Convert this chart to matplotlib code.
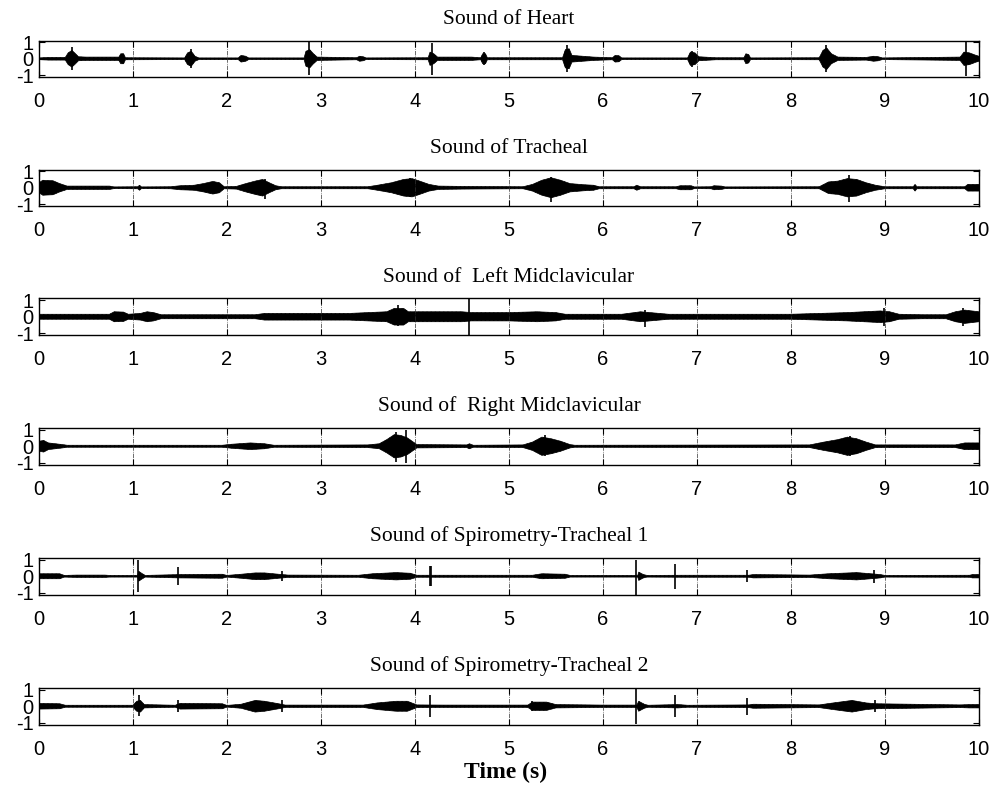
import numpy as np
import matplotlib
matplotlib.use('Agg')
import matplotlib.pyplot as plt

plt.rcParams['axes.unicode_minus'] = False

# envelope (time s, half amplitude) and spikes (time s, top, bottom)
heart_env = [(0, 0.05), (0.1, 0.08), (0.28, 0.08), (0.31, 0.35), (0.35, 0.5), (0.38, 0.35), (0.42, 0.12),
             (0.5, 0.1), (0.85, 0.1), (0.87, 0.3), (0.9, 0.3), (0.92, 0.06), (1.55, 0.05), (1.58, 0.35),
             (1.62, 0.45), (1.66, 0.15), (1.7, 0.05), (2.12, 0.05), (2.15, 0.2), (2.2, 0.15), (2.23, 0.05),
             (2.82, 0.05), (2.84, 0.45), (2.88, 0.55), (2.92, 0.3), (2.96, 0.1), (3.38, 0.06), (3.41, 0.15),
             (3.45, 0.12), (3.48, 0.05), (4.14, 0.06), (4.16, 0.4), (4.2, 0.3), (4.24, 0.1), (4.6, 0.1),
             (4.7, 0.06), (4.72, 0.3), (4.75, 0.3), (4.77, 0.06), (5.57, 0.06), (5.6, 0.55), (5.64, 0.6),
             (5.67, 0.2), (5.9, 0.1), (6.1, 0.06), (6.13, 0.2), (6.17, 0.18), (6.2, 0.05), (6.9, 0.05),
             (6.93, 0.4), (6.98, 0.35), (7.02, 0.12), (7.2, 0.06), (7.5, 0.06), (7.52, 0.3), (7.55, 0.25),
             (7.57, 0.05), (8.3, 0.06), (8.34, 0.5), (8.38, 0.65), (8.43, 0.3), (8.5, 0.1), (8.8, 0.08),
             (8.88, 0.15), (8.93, 0.12), (8.97, 0.05), (9.5, 0.08), (9.8, 0.1), (9.84, 0.4), (9.9, 0.35),
             (9.97, 0.2), (10, 0.15)]
heart_spikes = [(0.35, 0.7, -0.7), (1.62, 0.6, -0.55), (2.87, 1.05, -1.0), (4.18, 0.95, -1.0),
                (4.73, 0.4, -0.4), (5.62, 0.8, -0.78), (6.95, 0.45, -0.5), (8.37, 0.85, -0.82),
                (9.86, 1.1, -1.05)]

tracheal_env = [(0, 0.3), (0.04, 0.45), (0.15, 0.42), (0.22, 0.25), (0.3, 0.1), (0.75, 0.1), (0.8, 0.05),
                (1.05, 0.06), (1.07, 0.15), (1.09, 0.05), (1.4, 0.06), (1.5, 0.12), (1.65, 0.15), (1.75, 0.25),
                (1.85, 0.38), (1.92, 0.3), (1.97, 0.06), (2.1, 0.08), (2.2, 0.25), (2.3, 0.4), (2.38, 0.5),
                (2.45, 0.3), (2.52, 0.12), (2.58, 0.06), (3.5, 0.06), (3.6, 0.15), (3.75, 0.3), (3.88, 0.5),
                (3.97, 0.55), (4.05, 0.4), (4.15, 0.2), (4.25, 0.1), (4.5, 0.08), (5.15, 0.06), (5.25, 0.2),
                (5.35, 0.45), (5.45, 0.6), (5.55, 0.45), (5.65, 0.25), (5.8, 0.18), (5.9, 0.15), (5.96, 0.06),
                (6.33, 0.06), (6.36, 0.15), (6.4, 0.06), (6.78, 0.06), (6.82, 0.12), (6.94, 0.12), (6.97, 0.05),
                (7.15, 0.06), (7.18, 0.12), (7.26, 0.1), (7.3, 0.05), (8.3, 0.06), (8.4, 0.35), (8.5, 0.4),
                (8.6, 0.55), (8.7, 0.5), (8.8, 0.3), (8.9, 0.15), (9.0, 0.06), (9.3, 0.06), (9.32, 0.2),
                (9.34, 0.06), (9.85, 0.06), (9.88, 0.2), (10, 0.2)]
tracheal_spikes = [(2.4, 0.55, -0.68), (3.95, 0.6, -0.54), (5.45, 0.66, -0.84), (8.62, 0.76, -0.88)]

left_env = [(0, 0.15), (0.75, 0.15), (0.8, 0.3), (0.9, 0.28), (0.95, 0.15), (1.08, 0.2), (1.15, 0.3),
            (1.22, 0.25), (1.3, 0.12), (2.3, 0.12), (2.4, 0.2), (3.3, 0.2), (3.5, 0.25), (3.7, 0.3),
            (3.78, 0.5), (3.88, 0.5), (3.93, 0.3), (4.5, 0.3), (4.6, 0.25), (5.0, 0.25), (5.3, 0.3),
            (5.5, 0.25), (5.6, 0.15), (6.2, 0.15), (6.4, 0.3), (6.6, 0.2), (6.7, 0.15), (8.0, 0.15),
            (8.3, 0.2), (8.6, 0.25), (8.95, 0.35), (9.05, 0.3), (9.15, 0.15), (9.4, 0.12), (9.65, 0.12),
            (9.75, 0.3), (9.85, 0.4), (10, 0.3)]
left_spikes = [(3.82, 0.72, -0.58), (4.57, 1.1, -1.1), (6.45, 0.4, -0.6), (8.99, 0.55, -0.55),
               (9.83, 0.55, -0.55)]

right_env = [(0, 0.3), (0.05, 0.35), (0.1, 0.2), (0.25, 0.1), (0.3, 0.06), (1.95, 0.06), (2.05, 0.12),
             (2.25, 0.2), (2.4, 0.15), (2.5, 0.06), (3.5, 0.08), (3.62, 0.15), (3.7, 0.4), (3.78, 0.7),
             (3.85, 0.65), (3.92, 0.5), (3.97, 0.3), (4.02, 0.1), (4.55, 0.08), (4.58, 0.15), (4.62, 0.06),
             (5.15, 0.08), (5.25, 0.25), (5.35, 0.55), (5.45, 0.45), (5.55, 0.3), (5.65, 0.1), (5.7, 0.06),
             (8.2, 0.08), (8.35, 0.25), (8.5, 0.4), (8.6, 0.55), (8.7, 0.45), (8.8, 0.25), (8.9, 0.08),
             (9.75, 0.08), (9.85, 0.2), (10, 0.2)]
right_spikes = [(3.8, 0.84, -0.94), (3.9, 1.0, -1.0), (5.38, 0.65, -0.6), (8.63, 0.63, -0.6)]

spiro1_env = [(0, 0.15), (0.22, 0.15), (0.27, 0.05), (0.4, 0.07), (0.7, 0.07), (0.75, 0.05), (1.05, 0.05),
              (1.06, 0.3), (1.1, 0.15), (1.13, 0.05), (1.5, 0.1), (1.95, 0.12), (2.0, 0.05), (2.15, 0.12),
              (2.3, 0.2), (2.4, 0.2), (2.55, 0.12), (2.65, 0.07), (3.4, 0.06), (3.55, 0.15), (3.8, 0.22),
              (3.95, 0.18), (4.02, 0.06), (5.25, 0.06), (5.35, 0.15), (5.6, 0.12), (5.65, 0.05), (6.37, 0.05),
              (6.38, 0.25), (6.43, 0.1), (6.47, 0.05), (6.85, 0.06), (7.55, 0.06), (7.6, 0.1), (8.2, 0.07),
              (8.4, 0.15), (8.7, 0.22), (8.85, 0.15), (8.95, 0.1), (9.0, 0.05), (9.9, 0.06), (9.93, 0.1),
              (10, 0.1)]
spiro1_spikes = [(1.05, 1.0, -0.95), (1.475, 0.55, -0.55), (2.58, 0.3, -0.3), (4.16, 0.6, -0.6),
                 (4.17, 0.6, -0.6), (6.35, 1.0, -1.1), (6.77, 0.75, -0.75), (7.53, 0.35, -0.35),
                 (8.88, 0.4, -0.4)]

spiro2_env = [(0, 0.17), (0.22, 0.15), (0.28, 0.06), (1.0, 0.06), (1.04, 0.3), (1.08, 0.35), (1.12, 0.1),
              (1.45, 0.06), (1.5, 0.17), (1.95, 0.15), (2.0, 0.05), (2.15, 0.12), (2.3, 0.35), (2.4, 0.3),
              (2.55, 0.15), (2.62, 0.07), (3.45, 0.07), (3.6, 0.2), (3.8, 0.3), (3.92, 0.3), (4.02, 0.08),
              (4.3, 0.07), (5.2, 0.07), (5.25, 0.25), (5.4, 0.25), (5.5, 0.1), (6.0, 0.07), (6.36, 0.07),
              (6.38, 0.3), (6.44, 0.12), (6.48, 0.06), (6.8, 0.1), (6.9, 0.06), (7.55, 0.08), (7.6, 0.12),
              (8.3, 0.08), (8.45, 0.2), (8.65, 0.35), (8.8, 0.2), (8.9, 0.15), (9.8, 0.08), (9.9, 0.1),
              (10, 0.1)]
spiro2_spikes = [(1.06, 0.7, -0.6), (1.475, 0.35, -0.35), (2.59, 0.35, -0.35), (4.16, 0.7, -0.65),
                 (5.24, 0.3, -0.3), (6.35, 1.05, -1.05), (6.77, 0.65, -0.65), (7.53, 0.5, -0.5),
                 (8.89, 0.35, -0.35)]

titles = ['Sound of Heart', 'Sound of Tracheal', 'Sound of  Left Midclavicular',
          'Sound of  Right Midclavicular', 'Sound of Spirometry-Tracheal 1',
          'Sound of Spirometry-Tracheal 2']
envs = [heart_env, tracheal_env, left_env, right_env, spiro1_env, spiro2_env]
spikes = [heart_spikes, tracheal_spikes, left_spikes, right_spikes, spiro1_spikes, spiro2_spikes]
xticks = list(range(0, 11))
yticks = [-1, 0, 1]

tick_font = 'Liberation Sans'
title_font = 'Liberation Serif'

fig = plt.figure(figsize=(10.06, 7.93), dpi=100)
W, H = 1006, 793
tops = [40.5, 169.5, 298.5, 428, 558, 688]   # px from top of figure
ax_h = 36.5

for i in range(6):
    ax = fig.add_axes([39 / W, 1 - (tops[i] + ax_h) / H, 940 / W, ax_h / H])
    env = np.array(envs[i])
    ax.fill_between(env[:, 0], -env[:, 1], env[:, 1], facecolor='black',
                    edgecolor='black', hatch='||||', lw=0.5)
    sp = np.array(spikes[i])
    ax.vlines(sp[:, 0], sp[:, 2], sp[:, 1], color='black', lw=1.2)
    ax.set_xlim(0, 10)
    ax.set_ylim(-1.1, 1.1)
    ax.set_xticks(xticks)
    ax.set_yticks(yticks)
    ax.grid(True, axis='x', color='#333333', linestyle='-.', linewidth=0.5)
    ax.tick_params(direction='in', top=True, right=True, length=4, width=0.8)
    ax.tick_params(axis='x', pad=11, labelsize=14.5)
    ax.tick_params(axis='y', pad=4, labelsize=14.5)
    for lab in ax.get_xticklabels() + ax.get_yticklabels():
        lab.set_family(tick_font)
    for s in ax.spines.values():
        s.set_linewidth(1.0)
    ax.set_title(titles[i], fontsize=15.5, family=title_font, pad=12)

fig.text(506 / W, 1 - 772 / H, 'Time (s)', ha='center', va='center',
         fontsize=17, fontweight='bold', family=title_font)

fig.savefig('out.png', dpi=100)
